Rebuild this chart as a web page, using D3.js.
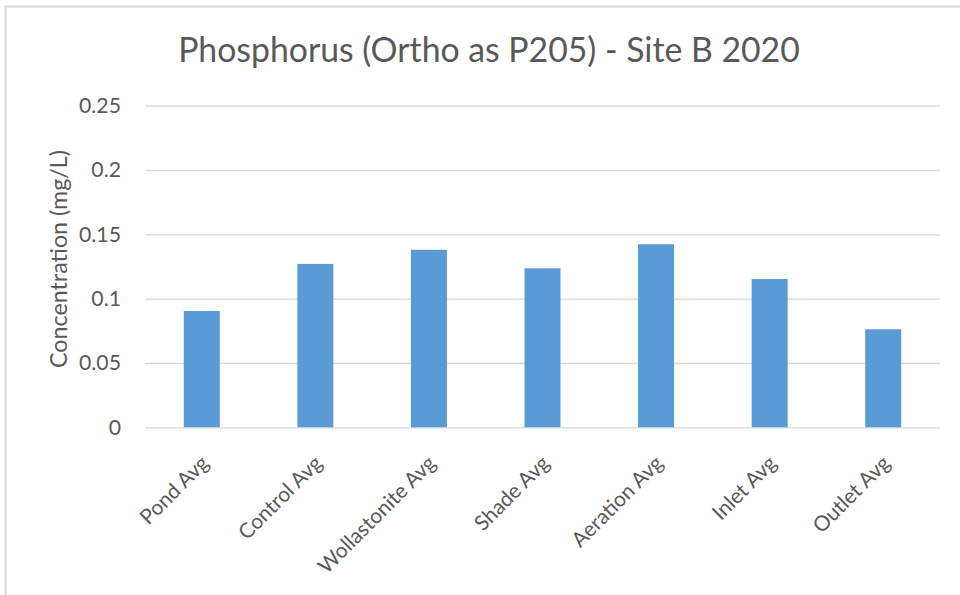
<!DOCTYPE html>
<html>
<head>
<meta charset="utf-8">
<script src="https://cdn.jsdelivr.net/npm/d3@7"></script>
<style>
  body { margin: 0; background: #fff; }
  svg { display: block; font-family: Lato, "Open Sans", sans-serif; }
</style>
</head>
<body>
<div id="chart"></div>
<script>
"use strict";

// Data
const categories = ['Pond Avg', 'Control Avg', 'Wollastonite Avg', 'Shade Avg',
    'Aeration Avg', 'Inlet Avg', 'Outlet Avg'];
const values = [0.0904, 0.127, 0.138, 0.1236, 0.1423, 0.1153, 0.0762];
const yTicks = [0, 0.05, 0.1, 0.15, 0.2, 0.25];
const yTickLabels = ['0', '0.05', '0.1', '0.15', '0.2', '0.25'];

const width = 960, height = 595;
const margin = {left: 145, right: 20, top: 105.7, bottom: 167.7};
const chartWidth = width - margin.left - margin.right;
const chartHeight = height - margin.top - margin.bottom;
const textColor = '#595959';

// Scale a font size so the text spans the length seen in the reference
// (the original font is narrower than anything installed here)
function fitFont(sel, node, target) {
    let len = node.getComputedTextLength();
    let fs = parseFloat(d3.select(node).style('font-size'));
    sel.style('font-size', (fs * target / len) + 'px');
}

let svg = d3.select('#chart').append('svg')
    .attr('width', width)
    .attr('height', height);

// Chart area border (runs off the right and bottom edges)
svg.append('rect')
    .attr('x', 5.5).attr('y', 6.5)
    .attr('width', 1000).attr('height', 1000)
    .attr('fill', 'none')
    .attr('stroke', '#d9d9d9')
    .attr('stroke-width', 2);

let title = svg.append('text')  // Title
    .attr('x', 489)
    .attr('y', 62)
    .style('text-anchor', 'middle')
    .style('font-size', '30px')
    .style('fill', textColor)
    .text('Phosphorus (Ortho as P205) - Site B 2020');
fitFont(title, title.node(), 622);

let x = d3.scaleBand()
    .domain(categories)
    .range([0, chartWidth])
    .paddingInner(0.683)
    .paddingOuter(0.3415);
let y = d3.scaleLinear()
    .domain([0, 0.25])
    .range([chartHeight, 0]);

let chartGroup = svg.append('g')
    .attr('transform', 'translate(' + margin.left + ',' + margin.top + ')');

// Gridlines with labels via axisLeft
let yAxis = d3.axisLeft(y)
    .tickValues(yTicks)
    .tickFormat(function (d, i) { return yTickLabels[i]; })
    .tickSize(-chartWidth)
    .tickPadding(24);
let yg = chartGroup.append('g').classed('y axis', true).call(yAxis);
yg.attr('font-size', null).attr('font-family', null);  // Use page font
yg.select('.domain').remove();
yg.selectAll('line').attr('stroke', '#d9d9d9').attr('stroke-width', 1.3);
let yLabels = yg.selectAll('text')
    .style('font-size', '18px')
    .style('fill', textColor);
fitFont(yLabels, yLabels.filter(function (d) { return d === 0.15; }).node(), 42);

chartGroup.selectAll('rect.bar')
    .data(values)
    .enter().append('rect')
    .classed('bar', true)
    .attr('x', function (d, i) { return x(categories[i]); })
    .attr('width', x.bandwidth())
    .attr('y', function (d) { return y(d); })
    .attr('height', function (d) { return chartHeight - y(d); })
    .attr('fill', '#5b9bd5');

// Category labels, rotated -45 degrees
let xAxis = d3.axisBottom(x).tickSize(0).tickPadding(0);
let xg = chartGroup.append('g')
    .classed('x axis', true)
    .attr('transform', 'translate(0,' + chartHeight + ')')
    .call(xAxis);
xg.select('.domain').remove();
xg.attr('font-size', null).attr('font-family', null);
let xLabels = xg.selectAll('text')
    .style('font-size', '18px')
    .style('fill', textColor)
    .style('text-anchor', 'end')
    .attr('dy', '0.75em')
    .attr('y', 0)
    .attr('transform', 'translate(-3,26) rotate(-45)');
fitFont(xLabels, xLabels.filter(function (d) { return d === 'Wollastonite Avg'; }).node(), 156);

let yTitle = svg.append('text')  // Y axis title
    .attr('transform', 'translate(67,259) rotate(-90)')
    .style('text-anchor', 'middle')
    .style('font-size', '20px')
    .style('fill', textColor)
    .text('Concentration (mg/L)');
fitFont(yTitle, yTitle.node(), 218);
</script>
</body>
</html>
